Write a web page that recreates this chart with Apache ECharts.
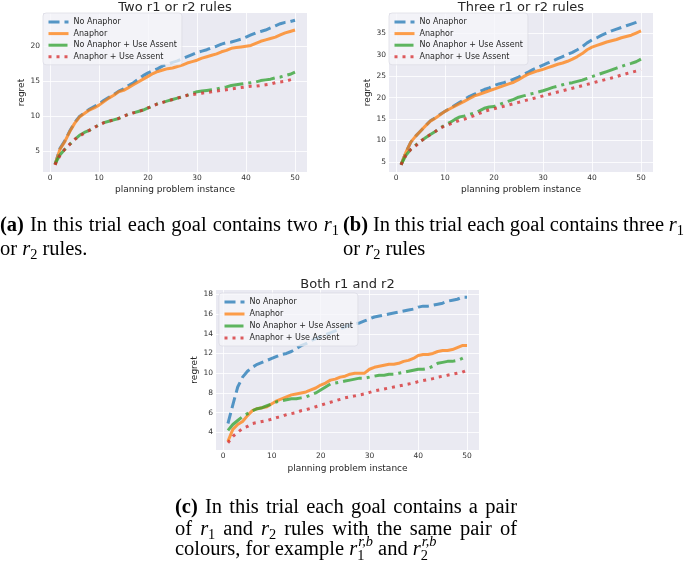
<!DOCTYPE html>
<html><head><meta charset="utf-8">
<script src="https://cdn.jsdelivr.net/npm/echarts@6/dist/echarts.min.js"></script>
<style>html,body{margin:0;padding:0;background:#fff}#c{width:685px;height:566px}</style>
</head><body><div id="c"></div>
<script>
// ---------------- data ----------------
const instances = [1,2,3,4,5,6,7,8,9,10,11,12,13,14,15,16,17,18,19,20,21,22,23,24,25,26,27,28,29,30,31,32,33,34,35,36,37,38,39,40,41,42,43,44,45,46,47,48,49,50];
const seriesNames = ['No Anaphor','Anaphor','No Anaphor + Use Assent','Anaphor + Use Assent'];
const chartTitles = ['Two r1 or r2 rules','Three r1 or r2 rules','Both r1 and r2'];
const xAxisName = 'planning problem instance';
const yAxisName = 'regret';

const twoNoAnaphor = [3.1,5.4,6.5,7.9,9.1,10.0,10.5,11.0,11.4,11.8,12.3,12.7,13.1,13.6,13.9,14.4,14.8,15.3,15.8,16.2,16.5,16.8,17.2,17.4,17.7,17.9,18.2,18.5,18.8,19.1,19.3,19.5,19.8,20.0,20.3,20.5,20.6,20.8,21.0,21.3,21.6,21.9,22.1,22.3,22.6,22.9,23.2,23.4,23.5,23.7];
const twoAnaphor = [3.1,5.3,6.4,7.8,9.0,9.9,10.4,10.9,11.2,11.6,12.1,12.6,13.0,13.5,13.7,14.1,14.5,14.9,15.3,15.7,16.1,16.4,16.6,16.8,16.9,17.1,17.3,17.6,17.8,18.0,18.3,18.5,18.7,18.9,19.2,19.4,19.7,19.8,19.9,20.0,20.1,20.4,20.7,20.9,21.1,21.3,21.6,21.9,22.1,22.3];
const twoNoAnaphorAssent = [3.2,4.5,5.3,6.0,6.7,7.3,7.7,8.0,8.4,8.8,9.1,9.3,9.5,9.7,10.0,10.3,10.5,10.7,10.9,11.2,11.5,11.8,12.0,12.2,12.4,12.6,12.8,13.0,13.3,13.5,13.6,13.7,13.8,13.9,14.1,14.2,14.4,14.5,14.6,14.7,14.8,14.9,15.1,15.2,15.3,15.5,15.6,15.8,16.0,16.3];
const twoAnaphorAssent = [3.1,4.4,5.3,6.0,6.7,7.2,7.6,8.0,8.4,8.8,9.1,9.3,9.5,9.7,10.0,10.3,10.5,10.7,10.9,11.2,11.5,11.8,12.0,12.2,12.4,12.6,12.8,13.0,13.1,13.2,13.3,13.4,13.5,13.6,13.7,13.8,13.9,14.0,14.1,14.2,14.3,14.3,14.4,14.5,14.6,14.8,14.9,15.0,15.2,15.4];

const threeNoAnaphor = [4.3,7.2,9.6,11.0,12.2,13.4,14.6,15.3,16.1,16.8,17.5,18.2,18.9,19.6,20.3,20.8,21.4,21.9,22.3,22.8,23.2,23.5,23.9,24.3,24.8,25.4,26.0,26.6,27.1,27.6,28.1,28.6,29.1,29.6,30.1,30.6,31.2,31.9,32.8,33.5,34.0,34.6,35.1,35.6,36.0,36.4,36.8,37.2,37.6,38.1];
const threeAnaphor = [4.3,7.2,9.6,11.0,12.2,13.4,14.5,15.2,16.0,16.8,17.4,18.0,18.6,19.2,19.8,20.4,20.8,21.2,21.6,22.0,22.4,22.8,23.2,23.6,24.2,24.9,25.5,25.9,26.3,26.6,27.0,27.4,27.8,28.1,28.5,29.0,29.6,30.3,31.2,31.8,32.2,32.6,33.0,33.3,33.6,34.0,34.3,34.6,35.1,35.6];
const threeNoAnaphorAssent = [4.3,6.5,7.9,8.9,9.8,10.6,11.4,12.1,12.9,13.6,14.2,14.9,15.5,15.7,16.1,16.4,16.9,17.5,17.8,17.9,18.4,18.8,19.2,19.6,20.1,20.4,20.7,21.0,21.3,21.6,22.0,22.4,22.7,23.0,23.3,23.5,23.8,24.1,24.5,24.9,25.3,25.7,26.1,26.5,26.9,27.3,27.7,28.0,28.4,29.0];
const threeAnaphorAssent = [4.3,6.5,7.9,8.7,9.8,10.6,11.4,12.1,12.9,13.4,13.8,14.3,14.7,15.0,15.4,15.8,16.3,16.8,17.1,17.4,17.7,18.0,18.3,18.6,18.9,19.2,19.5,19.8,20.1,20.4,20.7,21.0,21.3,21.6,21.9,22.2,22.5,22.8,23.1,23.4,23.7,24.0,24.3,24.6,24.9,25.3,25.6,25.9,26.2,26.5];

const bothNoAnaphor = [4.9,6.8,8.6,9.6,10.2,10.6,10.9,11.1,11.3,11.5,11.7,11.9,12.0,12.2,12.5,12.8,13.0,13.3,13.5,13.7,13.9,14.1,14.3,14.5,14.7,14.9,15.0,15.1,15.3,15.5,15.7,15.8,15.9,16.0,16.1,16.2,16.3,16.4,16.5,16.7,16.8,16.8,16.9,17.0,17.1,17.3,17.4,17.5,17.7,17.7];
const bothAnaphor = [3.1,4.3,4.8,5.1,5.7,6.2,6.4,6.5,6.6,6.9,7.2,7.4,7.6,7.8,7.9,8.0,8.1,8.3,8.5,8.8,9.0,9.3,9.4,9.6,9.7,9.9,10.0,10.0,10.0,10.4,10.6,10.7,10.8,10.9,10.9,11.0,11.2,11.3,11.5,11.8,11.9,11.9,12.0,12.2,12.3,12.3,12.4,12.6,12.8,12.8];
const bothNoAnaphorAssent = [4.2,4.8,5.2,5.6,5.9,6.2,6.4,6.5,6.7,6.9,7.1,7.2,7.3,7.4,7.4,7.5,7.6,7.8,8.0,8.3,8.6,8.9,9.0,9.1,9.2,9.3,9.4,9.5,9.5,9.6,9.7,9.8,9.8,9.9,9.9,10.0,10.1,10.2,10.3,10.4,10.4,10.5,10.7,11.0,11.1,11.2,11.2,11.3,11.5,11.75];
const bothAnaphorAssent = [2.95,3.6,4.0,4.4,4.6,4.9,5.0,5.1,5.2,5.35,5.5,5.6,5.8,5.9,6.0,6.2,6.3,6.45,6.6,6.75,6.9,7.05,7.2,7.35,7.5,7.6,7.7,7.8,7.9,8.05,8.2,8.3,8.4,8.5,8.6,8.7,8.8,8.9,9.0,9.15,9.25,9.35,9.45,9.6,9.7,9.8,9.9,10.0,10.1,10.3];

const panelData = [
  [twoNoAnaphor, twoAnaphor, twoNoAnaphorAssent, twoAnaphorAssent],
  [threeNoAnaphor, threeAnaphor, threeNoAnaphorAssent, threeAnaphorAssent],
  [bothNoAnaphor, bothAnaphor, bothNoAnaphorAssent, bothAnaphorAssent]
];
const yTickStep = [5, 5, 2];
const xTickStep = 10;

// ---------------- layout / style ----------------
const SANS = '"DejaVu Sans", sans-serif';
const TXT = '#262626';
const grids = [
  {left: 43, top: 13, width: 264, height: 159},
  {left: 389, top: 13, width: 264, height: 159},
  {left: 216, top: 290, width: 263, height: 160}
];
const legendPos = [
  {left: 43, top: 13, gap: 1.6},
  {left: 389, top: 13, gap: 1.6},
  {left: 219, top: 293, gap: 2}
];
const lineStyles = [
  {color: '#1f77b4', type: [11, 5]},
  {color: '#ff7f0e', type: 'solid'},
  {color: '#2ca02c', type: [19, 5, 3, 5]},
  {color: '#d62728', type: [3, 5]}
];
const pad = v => 0.05 * (v.max - v.min);

const option = {
  animation: false,
  backgroundColor: '#fff',
  textStyle: {fontFamily: SANS},
  grid: grids.map(g => Object.assign({show: true, backgroundColor: '#EAEAF2', borderWidth: 0}, g)),
  title: grids.map((g, i) => ({
    text: chartTitles[i], left: g.left + g.width / 2, textAlign: 'center',
    top: g.top - 12, padding: 0,
    textStyle: {fontFamily: SANS, fontSize: 13, fontWeight: 'normal', color: TXT}
  })),
  legend: legendPos.map(p => ({
    data: seriesNames, orient: 'vertical', left: p.left, top: p.top,
    padding: [4, 5, 3, 4], itemGap: p.gap, itemWidth: 20, itemHeight: 10,
    selectedMode: false,
    itemStyle: {opacity: 0, color: 'rgba(0,0,0,0)', borderWidth: 0},
    lineStyle: {width: 3},
    backgroundColor: 'rgba(246,246,250,0.75)', borderColor: 'rgba(215,215,225,0.8)', borderWidth: 0.8, borderRadius: 3,
    textStyle: {fontFamily: SANS, fontSize: 8, color: TXT, lineHeight: 10}
  })),
  xAxis: grids.map((g, i) => ({
    type: 'value', gridIndex: i,
    min: v => v.min - pad(v), max: v => v.max + pad(v),
    minInterval: xTickStep, maxInterval: xTickStep,
    axisLine: {show: false}, axisTick: {show: false},
    axisLabel: {fontSize: 7.5, color: '#333', margin: 2, showMinLabel: false, showMaxLabel: false, fontFamily: SANS},
    splitLine: {show: true, showMinLine: false, showMaxLine: false, lineStyle: {color: '#fff', width: 0.8}},
    name: xAxisName, nameLocation: 'middle', nameGap: i === 2 ? 14 : 13,
    nameTextStyle: {fontFamily: SANS, fontSize: 9, color: TXT}
  })),
  yAxis: grids.map((g, i) => ({
    type: 'value', gridIndex: i,
    min: v => v.min - pad(v), max: v => v.max + pad(v),
    minInterval: yTickStep[i], maxInterval: yTickStep[i],
    axisLine: {show: false}, axisTick: {show: false},
    axisLabel: {fontSize: 7.5, color: '#333', margin: 3, showMinLabel: false, showMaxLabel: false, fontFamily: SANS},
    splitLine: {show: true, showMinLine: false, showMaxLine: false, lineStyle: {color: '#fff', width: 0.8}},
    name: yAxisName, nameLocation: 'middle', nameGap: 16,
    nameTextStyle: {fontFamily: SANS, fontSize: 9, color: TXT}
  })),
  series: []
};
panelData.forEach((set, gi) => {
  set.forEach((vals, si) => {
    option.series.push({
      type: 'line', name: seriesNames[si], xAxisIndex: gi, yAxisIndex: gi,
      data: instances.map((x, k) => [x, vals[k]]),
      showSymbol: false, symbol: 'none',
      color: lineStyles[si].color,
      lineStyle: {color: lineStyles[si].color, width: 3, type: lineStyles[si].type, opacity: 0.75, cap: 'butt', join: 'round'}
    });
  });
});

// ---------------- captions (text layout) ----------------
const SERIF = '"Liberation Serif", "Times New Roman", serif';
const FS = 20.5;
const mctx = document.createElement('canvas').getContext('2d');
function fontOf(style, size) { return (style === 'normal' ? '' : style + ' ') + size + 'px ' + SERIF; }
function measure(text, style, size) { mctx.font = fontOf(style, size); mctx.textBaseline = 'alphabetic'; return mctx.measureText(text).width; }
function midToBase(style, size) { mctx.font = fontOf(style, size); mctx.textBaseline = 'middle'; const m = mctx.measureText('H'); mctx.textBaseline = 'alphabetic'; return m.actualBoundingBoxDescent; }
const captionGraphics = [];
function put(text, style, size, x, baseline) {
  captionGraphics.push({type: 'text', x: x, y: baseline - midToBase(style, size), silent: true,
    style: {text: text, font: fontOf(style, size), fill: '#000', align: 'left', verticalAlign: 'middle', textAlign: 'left', textVerticalAlign: 'middle'}});
}
function layoutLine(segs, x0, baseline, targetW) {
  const atoms = [];
  const sub = FS * 0.7;
  segs.forEach(s => {
    const kind = s[0];
    if (kind === 'n' || kind === 'b') {
      s[1].split(/( )/).forEach(p => { if (p !== '') atoms.push({kind: kind, text: p, space: p === ' '}); });
    } else atoms.push({kind: kind, text: s[1], sup: s[2]});
  });
  atoms.forEach(a => {
    if (a.kind === 'n') a.w = measure(a.text, 'normal', FS);
    else if (a.kind === 'b') a.w = measure(a.text, 'bold', FS);
    else if (a.kind === 'm') a.w = measure(a.text, 'italic', FS);
    else if (a.kind === 'sub') a.w = measure(a.text, 'normal', sub);
    else if (a.kind === 'subsup') a.w = Math.max(measure(a.text, 'normal', sub), measure(a.sup, 'italic', sub) + 1);
  });
  const natural = atoms.reduce((t, a) => t + a.w, 0);
  const nSp = atoms.filter(a => a.space).length;
  const extra = targetW && nSp ? (targetW - natural) / nSp : 0;
  let x = x0;
  atoms.forEach(a => {
    if (a.space) { x += a.w + extra; return; }
    if (a.kind === 'n') put(a.text, 'normal', FS, x, baseline);
    else if (a.kind === 'b') put(a.text, 'bold', FS, x, baseline);
    else if (a.kind === 'm') put(a.text, 'italic', FS, x, baseline);
    else if (a.kind === 'sub') put(a.text, 'normal', sub, x, baseline + FS * 0.2);
    else if (a.kind === 'subsup') {
      put(a.text, 'normal', sub, x, baseline + FS * 0.25);
      put(a.sup, 'italic', sub, x + 1, baseline - FS * 0.42);
    }
    x += a.w;
  });
}
layoutLine([['b', '(a)'], ['n', ' In this trial each goal contains two '], ['m', 'r'], ['sub', '1']], 0, 231, 339);
layoutLine([['n', 'or '], ['m', 'r'], ['sub', '2'], ['n', ' rules.']], 0, 255, 0);
layoutLine([['b', '(b)'], ['n', ' In this trial each goal contains three '], ['m', 'r'], ['sub', '1']], 343, 231, 341);
layoutLine([['n', 'or '], ['m', 'r'], ['sub', '2'], ['n', ' rules']], 343, 255, 0);
layoutLine([['b', '(c)'], ['n', ' In this trial each goal contains a pair']], 175, 513, 342);
layoutLine([['n', 'of '], ['m', 'r'], ['sub', '1'], ['n', ' and '], ['m', 'r'], ['sub', '2'], ['n', ' rules with the same pair of']], 175, 535, 342);
layoutLine([['n', 'colours, for example '], ['m', 'r'], ['subsup', '1', 'r,b'], ['n', ' and '], ['m', 'r'], ['subsup', '2', 'r,b']], 175, 555, 0);
option.graphic = captionGraphics;

const chart = echarts.init(document.getElementById('c'), null, {renderer: 'canvas'});
chart.setOption(option);
</script></body></html>
